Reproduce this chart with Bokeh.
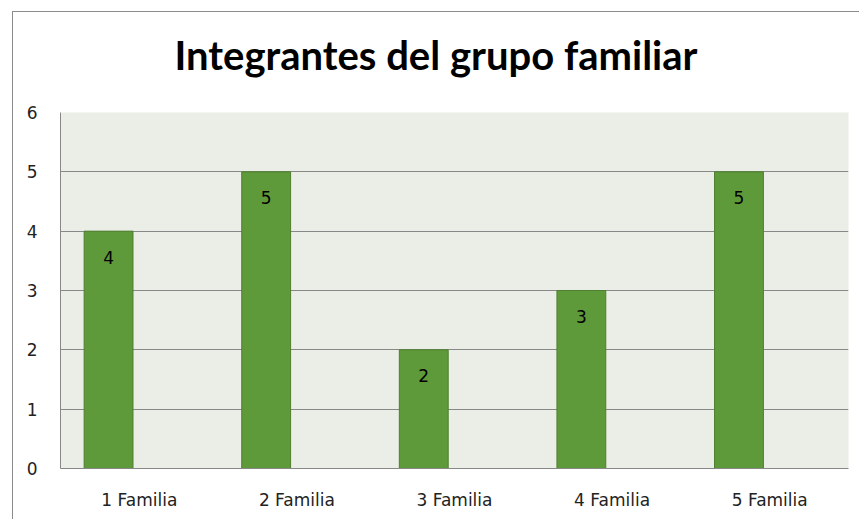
from bokeh.plotting import figure
from bokeh.models import FactorRange, Range1d, FixedTicker, ColumnDataSource, Title
from bokeh.transform import dodge
from bokeh.core.properties import value
from bokeh.embed import file_html
from bokeh.resources import INLINE

title_text = "Integrantes del grupo familiar"
categories = ["1 Familia", "2 Familia", "3 Familia", "4 Familia", "5 Familia"]
values = [4, 5, 2, 3, 5]
y_ticks = [0, 1, 2, 3, 4, 5, 6]

src = ColumnDataSource(dict(cat=categories, val=values, lab=[str(v) for v in values]))

p = figure(width=847, height=508, x_range=FactorRange(*categories), y_range=Range1d(0, 6),
           output_backend="svg", toolbar_location=None,
           min_border_left=47, min_border_right=12, min_border_top=100, min_border_bottom=52)
p.margin = (11, 0, 0, 12)
p.styles = {"border-left": "1px solid #8C8C8C", "border-top": "1px solid #8C8C8C"}

p.title.text = title_text
p.title.align = "left"
p.title.offset = 114
p.title.text_font = "Lato"
p.title.text_font_style = "bold"
p.title.text_font_size = "40px"
p.title.text_color = "#000000"
p.title.standoff = 20

spacer = Title(text=" ", text_font_size="1px", standoff=21)
p.add_layout(spacer, "above")

p.background_fill_color = "#EAEEE6"
p.border_fill_color = "#FFFFFF"
p.outline_line_color = None

p.vbar(x=dodge("cat", -0.195, range=p.x_range), top="val", width=0.31, bottom=0, source=src,
       fill_color="#5F9A3A", line_color="#4E7F2E", line_width=1)

p.text(x=dodge("cat", -0.195, range=p.x_range), y="val", text="lab", source=src,
       text_align="center", text_baseline="middle", y_offset=26,
       text_font=value("DejaVu Sans"), text_font_size="17px", text_color="#000000")

p.xgrid.grid_line_color = None
p.ygrid.grid_line_color = "#888888"
p.ygrid.grid_line_width = 1

p.yaxis.ticker = FixedTicker(ticks=y_ticks)
p.yaxis.major_tick_line_color = None
p.yaxis.minor_tick_line_color = None
p.yaxis.axis_line_color = "#888888"
p.yaxis.major_label_standoff = 17
p.yaxis.major_label_text_font = "DejaVu Sans"
p.yaxis.major_label_text_font_size = "17px"
p.yaxis.major_label_text_color = "#222222"

p.xaxis.major_tick_line_color = None
p.xaxis.axis_line_color = "#888888"
p.xaxis.major_label_standoff = 15
p.xaxis.major_label_text_font = "DejaVu Sans"
p.xaxis.major_label_text_font_size = "17px"
p.xaxis.major_label_text_color = "#222222"

open("out.html", "w").write(file_html(p, INLINE))
